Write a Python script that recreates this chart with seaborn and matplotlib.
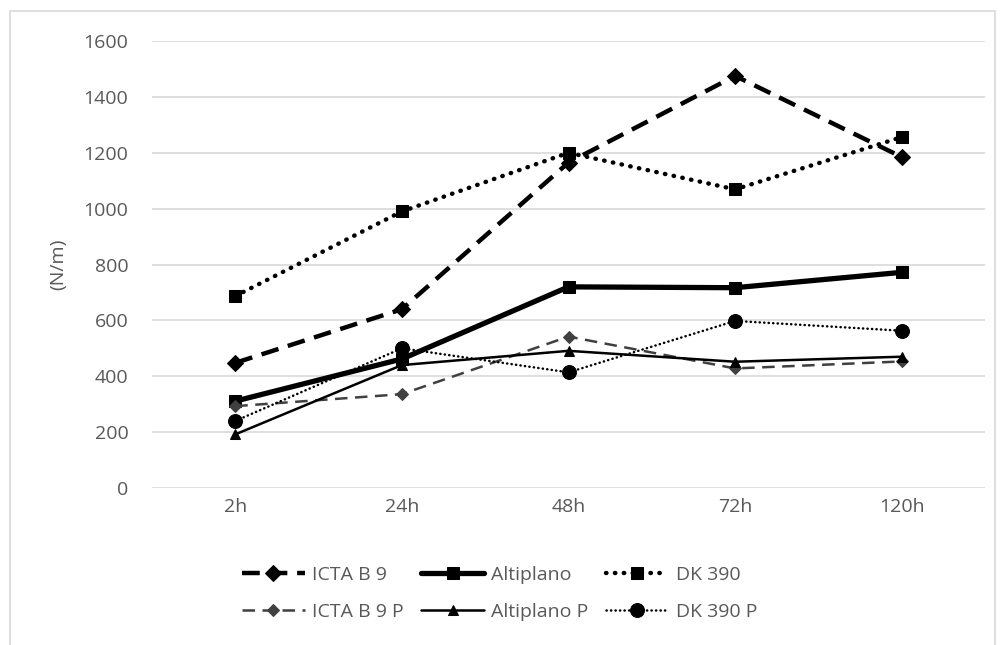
import matplotlib
matplotlib.use("Agg")
import matplotlib.pyplot as plt
import seaborn as sns
import pandas as pd
from matplotlib.patches import Rectangle

categories = ["2h", "24h", "48h", "72h", "120h"]
icta_b9 = [448, 640, 1165, 1475, 1185]
altiplano = [311, 462, 720, 717, 772]
dk390 = [687, 990, 1200, 1069, 1256]
icta_b9_p = [293, 336, 542, 428, 453]
altiplano_p = [192, 440, 491, 452, 470]
dk390_p = [240, 500, 414, 598, 563]
yticks = [0, 200, 400, 600, 800, 1000, 1200, 1400, 1600]

series = {
    "ICTA B 9": icta_b9,
    "Altiplano": altiplano,
    "DK 390": dk390,
    "ICTA B 9 P": icta_b9_p,
    "Altiplano P": altiplano_p,
    "DK 390 P": dk390_p,
}

styles = {
    "ICTA B 9": dict(color="black", lw=3.2, dashes=(4, 2.2), marker="D", ms=8.5),
    "Altiplano": dict(color="black", lw=3.8, dashes=None, marker="s", ms=9),
    "DK 390": dict(color="black", lw=3.2, dashes=(0.1, 1.9), marker="s", ms=9, cap="round"),
    "ICTA B 9 P": dict(color="#404040", lw=1.8, dashes=(5, 3), marker="D", ms=6.5),
    "Altiplano P": dict(color="black", lw=1.8, dashes=None, marker="^", ms=7),
    "DK 390 P": dict(color="black", lw=1.8, dashes=(0.1, 1.7), marker="o", ms=10, cap="round"),
}

sns.set_style("white")
plt.rcParams["font.family"] = ["Open Sans", "DejaVu Sans"]

fig = plt.figure(figsize=(10, 6.45), dpi=100)
ax = fig.add_axes([0.152, 0.2434, 0.833, 0.6930])

x_idx = list(range(len(categories)))
handles = {}
for name, vals in series.items():
    st = styles[name]
    df = pd.DataFrame({"x": x_idx, "y": vals})
    sns.lineplot(data=df, x="x", y="y", ax=ax, color=st["color"], lw=st["lw"],
                 marker=st["marker"], markersize=st["ms"], markeredgecolor=st["color"],
                 markerfacecolor=st["color"], label=name, zorder=3)
    line = ax.get_lines()[-1]
    if st["dashes"] is not None:
        line.set_dashes(st["dashes"])
    if st.get("cap"):
        line.set_dash_capstyle("round")
    handles[name] = line

ax.set_xlim(-0.5, 4.5)
ax.set_ylim(0, 1600)
ax.set_xticks(x_idx)
ax.set_xticklabels(categories)
ax.set_yticks(yticks)
ax.set_yticklabels([str(v) for v in yticks])
ax.tick_params(axis="both", length=0, labelsize=14, colors="#595959")
ax.tick_params(axis="y", pad=17)
ax.tick_params(axis="x", pad=7)
ax.grid(axis="y", color="#d9d9d9", lw=1.2, zorder=0)
ax.grid(axis="x", visible=False)
for s in ax.spines.values():
    s.set_visible(False)
ax.set_xlabel("")
ax.set_ylabel("(N/m)", fontsize=14, color="#595959", labelpad=12)
ax.get_legend().remove()

order = ["ICTA B 9", "ICTA B 9 P", "Altiplano", "Altiplano P", "DK 390", "DK 390 P"]
fig.legend([handles[n] for n in order], order, loc="center", ncol=3,
           bbox_to_anchor=(0.5, 0.08), frameon=False, fontsize=14,
           labelcolor="#595959", handlelength=3.2, handletextpad=0.4,
           columnspacing=0.9, labelspacing=0.95)

fig.patches.append(Rectangle((0.01, -0.01), 0.985, 0.993, transform=fig.transFigure,
                             fill=False, edgecolor="#d9d9d9", lw=1.2))

fig.savefig("out.png", dpi=100, facecolor="white")
